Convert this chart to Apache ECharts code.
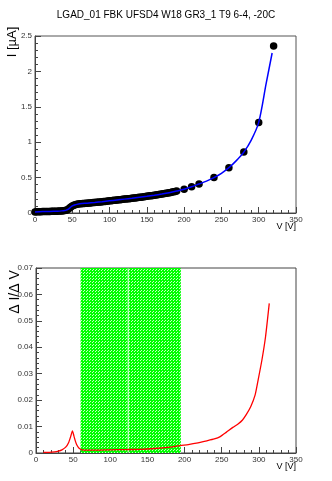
<!DOCTYPE html>
<html><head><meta charset="utf-8">
<script src="https://cdn.jsdelivr.net/npm/echarts@6/dist/echarts.min.js"></script>
<style>html,body{margin:0;padding:0;background:#fff}#c{width:332px;height:481px}</style>
</head><body><div id="c"></div>
<script>
// ---- data ----
const chartTitle = 'LGAD_01 FBK UFSD4 W18 GR3_1 T9 6-4, -20C';
const xTicks = [0, 50, 100, 150, 200, 250, 300, 350];
// measured I-V points (V, µA)
const voltage = [0,2,4,6,8,10,12,14,16,18,20,22,24,26,28,30,32,34,36,38,40,
  42,44,46,48,50,52,54,56,58,60,
  62,64,66,68,70,72,74,76,78,80,82,84,86,88,90,92,94,96,98,100,
  102,104,106,108,110,112,114,116,118,120,122,124,126,128,130,132,134,136,138,140,
  142,144,146,148,150,152,154,156,158,160,162,164,166,168,170,172,174,176,178,180,
  182,184,186,188,190,200,210,220,240,260,280,300,320];
const current = [0.015,0.016,0.017,0.018,0.019,0.02,0.02,0.021,0.021,0.022,0.022,0.023,0.023,0.024,0.025,0.026,0.027,0.028,0.030,0.032,0.035,
  0.04,0.05,0.066,0.085,0.1,0.11,0.117,0.122,0.126,0.129,
  0.131,0.133,0.135,0.137,0.139,0.141,0.143,0.145,0.147,0.149,0.151,0.153,0.155,0.157,0.16,0.162,0.164,0.167,0.169,0.172,
  0.174,0.176,0.179,0.181,0.184,0.186,0.188,0.191,0.193,0.196,0.198,0.201,0.203,0.206,0.208,0.211,0.213,0.216,0.219,0.222,
  0.224,0.227,0.23,0.233,0.236,0.239,0.242,0.245,0.248,0.251,0.254,0.258,0.261,0.265,0.268,0.272,0.276,0.279,0.283,0.287,
  0.291,0.295,0.3,0.305,0.31,0.335,0.37,0.41,0.50,0.64,0.86,1.28,2.36];
// fitted curve (blue)
const fitV = [0,10,20,30,36,40,42,44,46,48,50,52,54,56,60,70,80,90,100,110,120,130,140,150,160,170,180,190,200,210,220,230,240,250,260,270,280,290,300,310,318];
const fitI = [0.015,0.02,0.022,0.026,0.03,0.035,0.04,0.05,0.066,0.085,0.1,0.11,0.117,0.122,0.129,0.139,0.149,0.16,0.172,0.184,0.196,0.208,0.222,0.236,0.251,0.268,0.287,0.31,0.335,0.37,0.41,0.45,0.50,0.56,0.64,0.74,0.86,1.03,1.28,1.83,2.26];
// derivative ΔI/ΔV (red)
const derivV = [10,15,20,25,30,35,40,44,47,49,51,53,55,58,62,70,80,100,120,140,160,180,194,205,216,230,240,248,256,265,272,278,283,289,295,299,304,309,314];
const derivVal = [0.0002,0.0002,0.0003,0.0004,0.0007,0.0012,0.0022,0.004,0.0065,0.0084,0.0065,0.0045,0.003,0.0018,0.0012,0.0011,0.0011,0.0012,0.0013,0.0014,0.0017,0.0022,0.0028,0.0032,0.0037,0.0046,0.0053,0.0062,0.0078,0.0097,0.011,0.0125,0.0145,0.0175,0.022,0.0276,0.035,0.044,0.0566];
// highlighted voltage band (green) split by a gap
const bandRanges = [[60, 123.4], [124.7, 195]];

// ---- chart ----
const pc = document.createElement('canvas');
pc.width = 3; pc.height = 3;
const g = pc.getContext('2d');
g.fillStyle = '#00ff00'; g.fillRect(0, 0, 3, 3);
g.fillStyle = '#c8ffc8'; g.fillRect(2, 0, 1, 1); g.fillRect(0, 2, 1, 1);
const pattern = { image: pc, repeat: 'repeat' };

const font = 'Liberation Sans, Arial, Helvetica, sans-serif';
const tickLbl = { fontSize: 8, color: '#333', fontFamily: font, margin: 3 };
function xAx(gi) {
  return { type: 'value', gridIndex: gi, min: 0, max: 350, interval: 50,
    axisLine: { lineStyle: { color: '#444', width: 1 } },
    axisTick: { inside: true, length: 6, lineStyle: { color: '#444' } },
    minorTick: { show: true, splitNumber: 5, length: 3, lineStyle: { color: '#444' } },
    axisLabel: Object.assign({}, tickLbl), splitLine: { show: false } };
}
function yAx(gi, max, iv, fmt) {
  return { type: 'value', gridIndex: gi, min: 0, max: max, interval: iv,
    axisLine: { show: true, lineStyle: { color: '#444', width: 1 } },
    axisTick: { inside: true, length: 6, lineStyle: { color: '#444' } },
    minorTick: { show: true, splitNumber: 5, length: 3, lineStyle: { color: '#444' } },
    axisLabel: Object.assign({ formatter: fmt }, tickLbl), splitLine: { show: false } };
}
const chart = echarts.init(document.getElementById('c'), null, { renderer: 'canvas' });
chart.setOption({
  animation: false,
  backgroundColor: '#fff',
  grid: [
    { left: 35, right: 36, top: 36, height: 177, show: true, borderColor: '#555', borderWidth: 1 },
    { left: 36, right: 36, top: 268, height: 185, show: true, borderColor: '#444', borderWidth: 1 }
  ],
  xAxis: [xAx(0), xAx(1)],
  yAxis: [
    yAx(0, 2.5, 0.5, v => String(+v.toFixed(1))),
    yAx(1, 0.07, 0.01, v => String(+v.toFixed(2)))
  ],
  graphic: [
    { type: 'text', left: 'center', top: 10, style: { text: chartTitle, font: '10px ' + font, fill: '#000' } },
    { type: 'text', x: 12, y: 42, rotation: Math.PI / 2, style: { text: 'I [µA]', font: '13px ' + font, fill: '#000', textAlign: 'center', textVerticalAlign: 'middle' } },
    { type: 'text', x: 296, y: 222, style: { text: 'V [V]', font: '9px ' + font, fill: '#000', textAlign: 'right' } },
    { type: 'text', x: 15, y: 292, rotation: Math.PI / 2, style: { text: 'Δ I/Δ V', font: '14px ' + font, fill: '#000', textAlign: 'center', textVerticalAlign: 'middle' } },
    { type: 'text', x: 296, y: 462, style: { text: 'V [V]', font: '9px ' + font, fill: '#000', textAlign: 'right' } }
  ],
  series: [
    { type: 'scatter', xAxisIndex: 0, yAxisIndex: 0, symbol: 'circle', symbolSize: 7.5,
      itemStyle: { color: '#000', opacity: 1 }, data: voltage.map((v, i) => [v, current[i]]), z: 2 },
    { type: 'line', xAxisIndex: 0, yAxisIndex: 0, smooth: 0.3, showSymbol: false,
      lineStyle: { color: '#0000ff', width: 1.5 }, data: fitV.map((v, i) => [v, fitI[i]]), z: 3 },
    { type: 'line', xAxisIndex: 1, yAxisIndex: 1, smooth: 0.2, showSymbol: false,
      lineStyle: { color: '#ff0000', width: 1.3 }, data: derivV.map((v, i) => [v, derivVal[i]]), z: 2,
      markArea: { silent: true, itemStyle: { color: pattern, opacity: 1 },
        data: bandRanges.map(r => [{ xAxis: r[0], yAxis: 0 }, { xAxis: r[1], yAxis: 0.07 }]) } }
  ]
});
</script></body></html>
